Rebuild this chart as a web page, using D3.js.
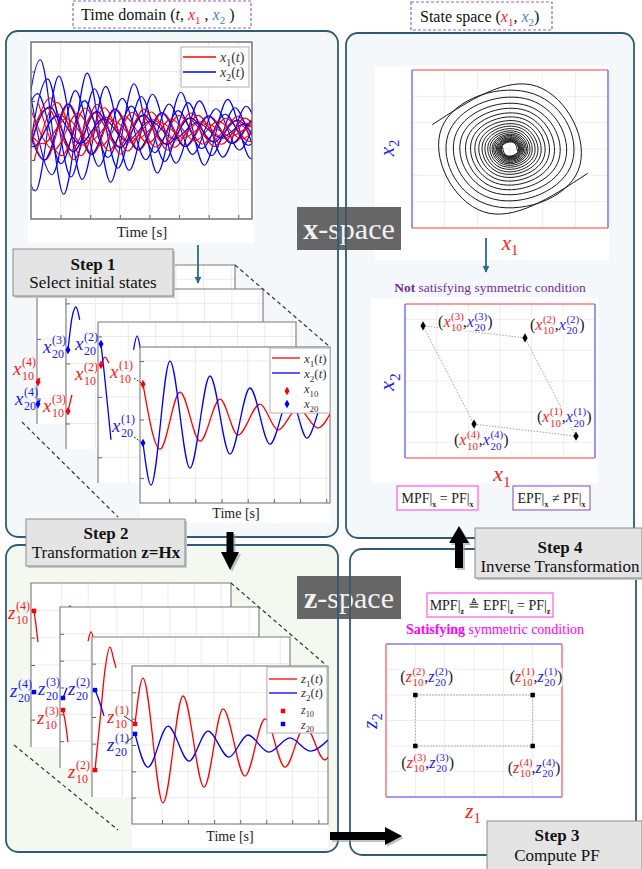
<!DOCTYPE html>
<html>
<head>
<meta charset="utf-8">
<script src="https://cdn.jsdelivr.net/npm/d3@7"></script>
<style>
  body { margin: 0; background: #fff; }
  svg text { font-family: 'Liberation Serif', 'DejaVu Serif', serif; }
</style>
</head>
<body>
<svg id="chart" width="642" height="869"></svg>
<script>
// ---------- data ----------
// top time-domain plot (t in s, states in arbitrary units)
var topGridT = [1.34, 2.68, 4.02, 5.36, 6.7, 8.04, 9.38];
var topGridV = [-2, -1, 0, 1, 2];
var halfPeriod = 1.06;
var envelope = [1.08, 1, 0.9, 0.81, 0.73, 0.66, 0.6, 0.54, 0.49, 0.44, 0.4, 0.36, 0.33];
var blueAmp = [2.4, -2.05, 1.75, -1.5, 1.25, -1.0, 0.8, -0.55];
var redAmp = [1.1, -1.0, 0.95, -0.85, 0.75, -0.65, 0.55, -0.45];
var trajPhase = [0.42, 0.2, 0.75, 0.95, 0.3, 0.6, 0.85, 0.1];
var redLag = 0.45;

// step 1 front plot
var xGridT = [1.4, 2.8, 4.2, 5.6, 7.0, 8.4, 9.8];
var xGridV = [-2, 0, 2];
var x1FrontT = [0, 0.91, 1.98, 3.05, 4.12, 5.08, 6.26, 7.22, 8.29, 9.36, 10];
var x1FrontV = [1.21, -1.01, 0.94, -0.74, 0.70, -0.53, 0.53, -0.36, 0.39, -0.29, 0.19];
var x2FrontT = [0, 0.43, 1.44, 2.51, 3.58, 4.65, 5.72, 6.79, 7.86, 8.77, 9.73, 10];
var x2FrontV = [-0.80, -2.24, 2.0, -1.66, 1.49, -1.18, 1.08, -0.84, 0.80, -0.63, 0.68, 0.5];
// step 1 back plots (visible pieces only)
var xBack1Red = [[0, -1.44], [0.1, -1.31]];
var xBack1Blue = [[0, -2.18], [0.1, -2.05]];
var xBack2Red = [[0, -1.59], [0.2, -1.05]];
var xBack2Blue = [[0, 0.45], [0.2, 1.5], [0.41, 1.88], [0.6, 1.45]];
var xBack3Red = [[0, 1.06], [0.2, 1.32], [0.4, 1.12]];
var xBack3Blue = [[0, 1.75], [0.15, 0.89], [0.36, -0.43], [0.51, -1.42]];
var xBack3BlueBump = [[1.67, 1.56], [1.85, 2.02], [2.03, 1.56]];

// step 2 front plot
var zGridT = [1.4, 2.75, 4.1, 5.45, 6.8, 8.15, 9.5];
var zGridV = [-2, -1, 0, 1, 2];
var z1FrontT = [0, 0.41, 1.45, 2.49, 3.58, 4.56, 5.7, 6.74, 7.77, 8.81, 9.84, 10];
var z1FrontV = [0.8, 2.54, -2.2, 1.86, -1.6, 1.37, -1.18, 0.99, -0.84, 0.72, -0.57, -0.46];
var z2FrontT = [0, 0.67, 1.71, 2.8, 3.78, 4.87, 5.85, 6.94, 8.03, 9.07, 10];
var z2FrontV = [0.42, -0.84, 0.72, -0.61, 0.53, -0.46, 0.38, -0.27, 0.27, -0.23, 0.19];
// step 2 back plots
var zBack1Red = [[0, 1.98], [0.1, 1.46], [0.2, 0.84]];
var zBack1RedBump = [[1.68, 1.87], [1.83, 2.16], [1.98, 1.87]];
var zBack1Blue = [[0, -0.99]];
var zBack2Red = [[0, -0.84], [0.15, -1.44], [0.25, -2.03]];
var zBack2RedBump = [[1.28, 1.73], [1.43, 2.07], [1.58, 1.73]];
var zBack2Blue = [[0, -0.39], [0.2, -0.02]];
var zBack3Red = [[0, -1.99], [0.26, -0.11], [0.51, 1.76], [0.77, 2.62], [0.97, 2.13], [1.08, 1.84]];
var zBack3Blue = [[0, 1.01], [0.2, 0.64], [0.46, 0.04]];

// state space spiral: radius per quarter turn (relative)
var spiralR = [1.15, 1.08, 1.01, 0.95, 0.89, 0.84, 0.79, 0.74, 0.70, 0.66, 0.62, 0.585,
  0.55, 0.52, 0.49, 0.46, 0.435, 0.41, 0.39, 0.37, 0.35, 0.33, 0.31, 0.295, 0.28, 0.265,
  0.25, 0.24, 0.23, 0.22, 0.21, 0.20, 0.19, 0.182, 0.175, 0.168, 0.161, 0.155, 0.149,
  0.143, 0.138, 0.133, 0.128, 0.124, 0.12, 0.116, 0.112];
var spiralArmStart = [160, -20];
var spiralAxis = [2.2, 2.35];
var stateGrid = [-2, -1, 0, 1, 2];

// initial states
var ptIndex = ["(1)", "(2)", "(3)", "(4)"];
var xInitX1 = [2.4, 0.79, -2.43, -0.82];
var xInitX2 = [-1.79, 1.40, 1.79, -1.40];
var zInitZ1 = [2, -2, -2, 2];
var zInitZ2 = [1, 1, -1, -1];

// ---------- drawing ----------
var svg = d3.select("#chart");
var RED = "#ff1a1a", BLUE = "#1a1aff", TEAL = "#3b8ba6", PANEL = "#2f5c74";
var LRED = "#ff7b7b", LBLUE = "#7b7bff";

// panels
var panels = [
  [6, 31, 332, 506, "#f4f8fb"],
  [346, 33, 288, 505, "#f4f8fb"],
  [6, 545, 332, 307, "#f3f8f0"],
  [350, 549, 286, 306, "#ffffff"]
];
svg.selectAll(".pfill").data(panels).enter().append("rect")
  .attr("x", d => d[0]).attr("y", d => d[1]).attr("width", d => d[2]).attr("height", d => d[3])
  .attr("rx", 12).attr("fill", d => d[4]);

var lineT = d3.line().curve(d3.curveMonotoneX);

// titles
function titleBox(x, y, w, h) {
  svg.append("rect").attr("x", x).attr("y", y).attr("width", w).attr("height", h)
    .attr("fill", "#fff").attr("stroke", "#9a62c8").attr("stroke-width", 1.2).attr("stroke-dasharray", "3,2");
}
titleBox(73, 1, 178, 27);
var t1 = svg.append("text").attr("x", 81).attr("y", 20).attr("font-size", 16).attr("fill", "#111");
t1.append("tspan").text("Time domain (");
t1.append("tspan").attr("font-style", "italic").text("t");
t1.append("tspan").text(", ");
t1.append("tspan").attr("font-style", "italic").attr("fill", RED).text("x");
t1.append("tspan").attr("font-size", 11).attr("dy", 4).attr("fill", RED).text("1");
t1.append("tspan").attr("dy", -4).text(" , ");
t1.append("tspan").attr("font-style", "italic").attr("fill", TEAL).text("x");
t1.append("tspan").attr("font-size", 11).attr("dy", 4).attr("fill", TEAL).text("2");
t1.append("tspan").attr("dy", -4).text(" )");

titleBox(411, 2, 141, 28);
var t2 = svg.append("text").attr("x", 420).attr("y", 22).attr("font-size", 16).attr("fill", "#111");
t2.append("tspan").text("State space (");
t2.append("tspan").attr("font-style", "italic").attr("fill", RED).text("x");
t2.append("tspan").attr("font-size", 11).attr("dy", 4).attr("fill", RED).text("1");
t2.append("tspan").attr("dy", -4).text(", ");
t2.append("tspan").attr("font-style", "italic").attr("fill", TEAL).text("x");
t2.append("tspan").attr("font-size", 11).attr("dy", 4).attr("fill", TEAL).text("2");
t2.append("tspan").attr("dy", -4).text(")");

// generic small plot
var clipId = 0;
function plot(box, xDom, yDom, pad, gridX, gridY, opts) {
  opts = opts || {};
  var g = svg.append("g");
  var x = d3.scaleLinear().domain(xDom).range([box[0] + pad, box[2]]);
  var y = d3.scaleLinear().domain(yDom).range([box[3], box[1]]);
  g.append("rect").attr("x", box[0]).attr("y", box[1])
    .attr("width", box[2] - box[0]).attr("height", (opts.bgBottom || box[3]) - box[1]).attr("fill", "#fff");
  g.selectAll(".gx").data(gridX).enter().append("line")
    .attr("x1", d => x(d)).attr("x2", d => x(d)).attr("y1", box[1]).attr("y2", box[3])
    .attr("stroke", "#e6e6e6").attr("stroke-width", 0.8);
  g.selectAll(".gy").data(gridY).enter().append("line")
    .attr("y1", d => y(d)).attr("y2", d => y(d)).attr("x1", box[0]).attr("x2", box[2])
    .attr("stroke", "#e6e6e6").attr("stroke-width", 0.8);
  var ay = g.append("g").attr("transform", "translate(" + box[0] + ",0)")
    .call(d3.axisLeft(y).tickValues(gridY).tickSizeInner(-4).tickSizeOuter(0).tickFormat(""));
  ay.select(".domain").remove();
  ay.selectAll("line").attr("stroke", "#666");
  if (opts.bottomAxis) {
    var ax = g.append("g").attr("transform", "translate(0," + box[3] + ")")
      .call(d3.axisBottom(x).tickValues(gridX).tickSizeInner(-4).tickSizeOuter(0).tickFormat(""));
    ax.select(".domain").remove();
    ax.selectAll("line").attr("stroke", "#666");
  }
  if (opts.back) {
    g.append("path").attr("d", "M" + box[0] + "," + box[3] + "V" + box[1] + "H" + box[2] + "V" + box[3])
      .attr("fill", "none").attr("stroke", "#7a7a7a").attr("stroke-width", 1.1);
  } else {
    g.append("rect").attr("x", box[0]).attr("y", box[1]).attr("width", box[2] - box[0]).attr("height", box[3] - box[1])
      .attr("fill", "none").attr("stroke", "#7a7a7a").attr("stroke-width", 1.1);
  }
  clipId++;
  g.append("clipPath").attr("id", "c" + clipId).append("rect")
    .attr("x", box[0]).attr("y", box[1] - 30).attr("width", box[2] - box[0]).attr("height", box[3] - box[1] + 30);
  var inner = g.append("g").attr("clip-path", "url(#c" + clipId + ")");
  return { g: g, inner: inner, x: x, y: y };
}

function curve(p, pts, color, w) {
  p.inner.append("path")
    .attr("d", lineT(pts.map(d => [p.x(d[0]), p.y(d[1])])))
    .attr("fill", "none").attr("stroke", color).attr("stroke-width", w || 1.3);
}
function marker(g, x, y, color, type, size) {
  g.append("path").attr("transform", "translate(" + x + "," + y + ")")
    .attr("d", d3.symbol().type(type).size(size || 22)()).attr("fill", color);
}

// ---- top time-domain plot ----
svg.append("rect").attr("x", 28).attr("y", 40).attr("width", 226).attr("height", 203).attr("fill", "#fff");
var topPlot = plot([31, 42, 252, 219], [0, 10], [-3, 3], 0, topGridT, topGridV, { bottomAxis: true });
var topClip = topPlot.g.append("clipPath").attr("id", "topclip");
topClip.append("rect").attr("x", 31).attr("y", 42).attr("width", 221).attr("height", 177);
topPlot.inner.attr("clip-path", "url(#topclip)");
blueAmp.forEach(function (a, j) {
  var ptsB = envelope.map((e, k) => [trajPhase[j] + (k - 1) * halfPeriod, a * e * (k % 2 === 0 ? -1 : 1)]);
  var ptsR = envelope.map((e, k) => [trajPhase[j] + redLag + (k - 1) * halfPeriod, redAmp[j] * e * (k % 2 === 0 ? -1 : 1)]);
  curve(topPlot, ptsB, "#0000ff", 1.1);
  curve(topPlot, ptsR, "#ff0000", 1.1);
});
topPlot.g.append("rect").attr("x", 31).attr("y", 42).attr("width", 221).attr("height", 177)
  .attr("fill", "none").attr("stroke", "#7a7a7a").attr("stroke-width", 1.1);
svg.append("rect").attr("x", 181).attr("y", 47).attr("width", 68).attr("height", 40)
  .attr("fill", "#fff").attr("stroke", "#b0b0b0");
function fnLabel(x, y, letter, s, arg, fs) {
  var t = svg.append("text").attr("x", x).attr("y", y).attr("font-size", fs).attr("fill", "#333");
  t.append("tspan").attr("font-style", "italic").text(letter);
  t.append("tspan").attr("font-size", fs * 0.7).attr("dy", fs * 0.28).text(s);
  if (arg) {
    t.append("tspan").attr("dy", -fs * 0.28).text("(");
    t.append("tspan").attr("font-style", "italic").text("t");
    t.append("tspan").text(")");
  }
}
svg.append("line").attr("x1", 183).attr("x2", 216).attr("y1", 57).attr("y2", 57).attr("stroke", "#ff0000").attr("stroke-width", 1.3);
svg.append("line").attr("x1", 183).attr("x2", 216).attr("y1", 72).attr("y2", 72).attr("stroke", "#0000ff").attr("stroke-width", 1.3);
fnLabel(220, 62, "x", "1", true, 14);
fnLabel(220, 77, "x", "2", true, 14);
svg.append("text").attr("x", 142).attr("y", 237).attr("text-anchor", "middle").attr("font-size", 15).attr("fill", "#222").text("Time [s]");

// thin teal arrows
svg.append("defs").append("marker").attr("id", "tealHead").attr("viewBox", "0 0 10 10")
  .attr("refX", 9).attr("refY", 5).attr("markerWidth", 4).attr("markerHeight", 4).attr("orient", "auto")
  .append("path").attr("d", "M0,0L10,5L0,10z").attr("fill", "#2b6a88");
function tealArrow(x, y1, y2) {
  svg.append("line").attr("x1", x).attr("x2", x).attr("y1", y1).attr("y2", y2)
    .attr("stroke", "#2b6a88").attr("stroke-width", 1.8).attr("marker-end", "url(#tealHead)");
}

// ---- step 1 stack ----
var xyDom = [-2.85, 2.48];
var xb1 = plot([37, 265, 235, 424], [0, 10], xyDom, 1, xGridT, xGridV, { back: true });
curve(xb1, xBack1Red, "#ff0000"); curve(xb1, xBack1Blue, "#0000ff");
var xb2 = plot([66, 289, 263, 449], [0, 10], xyDom, 2, xGridT, xGridV, { back: true });
curve(xb2, xBack2Red, "#ff0000"); curve(xb2, xBack2Blue, "#0000ff");
var xb3 = plot([98, 322, 296, 483], [0, 10], xyDom, 3, xGridT, xGridV, { back: true });
curve(xb3, xBack3Red, "#ff0000"); curve(xb3, xBack3Blue, "#0000ff"); curve(xb3, xBack3BlueBump, "#0000ff");
var xf = plot([140, 347, 330, 503], [0, 10], xyDom, 3, xGridT, xGridV, { bottomAxis: true, bgBottom: 523 });
curve(xf, x1FrontT.map((t, i) => [t, x1FrontV[i]]), "#ff0000");
curve(xf, x2FrontT.map((t, i) => [t, x2FrontV[i]]), "#0000ff");
[[xb1, xBack1Red, xBack1Blue], [xb2, xBack2Red, xBack2Blue], [xb3, xBack3Red, xBack3Blue]].forEach(function (b) {
  marker(svg, b[0].x(b[1][0][0]), b[0].y(b[1][0][1]), "#ff0000", d3.symbolDiamond);
  marker(svg, b[0].x(b[2][0][0]), b[0].y(b[2][0][1]), "#0000ff", d3.symbolDiamond);
});
marker(svg, xf.x(0), xf.y(x1FrontV[0]), "#ff0000", d3.symbolDiamond);
marker(svg, xf.x(0), xf.y(x2FrontV[0]), "#0000ff", d3.symbolDiamond);
svg.append("text").attr("x", 236).attr("y", 518).attr("text-anchor", "middle").attr("font-size", 14).attr("fill", "#222").text("Time [s]");
tealArrow(198, 245, 283);
// legend
svg.append("rect").attr("x", 270).attr("y", 348).attr("width", 60).attr("height", 65).attr("fill", "#fff").attr("stroke", "#b0b0b0");
svg.append("line").attr("x1", 272).attr("x2", 300).attr("y1", 358).attr("y2", 358).attr("stroke", "#ff0000").attr("stroke-width", 1.3);
svg.append("line").attr("x1", 272).attr("x2", 300).attr("y1", 373).attr("y2", 373).attr("stroke", "#0000ff").attr("stroke-width", 1.3);
fnLabel(304, 363, "x", "1", true, 13);
fnLabel(304, 378, "x", "2", true, 13);
marker(svg, 287, 391, "#ff0000", d3.symbolDiamond);
marker(svg, 287, 404, "#0000ff", d3.symbolDiamond);
fnLabel(304, 393, "x", "10", false, 12.5);
fnLabel(304, 408, "x", "20", false, 12.5);

// dashed perspective lines
function dashed(x1, y1, x2, y2) {
  svg.append("line").attr("x1", x1).attr("y1", y1).attr("x2", x2).attr("y2", y2)
    .attr("stroke", "#333").attr("stroke-width", 1.2).attr("stroke-dasharray", "4,3");
}
dashed(235, 265, 330, 347);
dashed(22, 422, 118, 517);

// indexed symbols like x_10^(1)
function indexed(g, x, y, letter, s, sup, color, fs, ss) {
  var t = g.append("text").attr("x", x).attr("y", y).attr("fill", color)
    .attr("font-size", fs).attr("font-style", "italic").text(letter);
  var w = t.node().getComputedTextLength();
  var a = g.append("text").attr("x", x + w + 0.5).attr("y", y + fs * 0.28).attr("fill", color).attr("font-size", ss).text(s);
  var w2 = a.node().getComputedTextLength();
  var b = g.append("text").attr("x", x + w + 0.5).attr("y", y - fs * 0.45).attr("fill", color).attr("font-size", ss).text(sup);
  w2 = Math.max(w2, b.node().getComputedTextLength());
  return w + 0.5 + w2;
}
var labX = svg.append("g");
var stepOneLabels = [
  [13, 375, "10", "(4)", RED], [15, 405, "20", "(4)", BLUE],
  [43, 353, "20", "(3)", BLUE], [43, 412, "10", "(3)", RED],
  [75, 350, "20", "(2)", BLUE], [75, 380, "10", "(2)", RED],
  [110, 378, "10", "(1)", RED], [112, 432, "20", "(1)", BLUE]
];
stepOneLabels.forEach(d => indexed(labX, d[0], d[1], "x", d[2], d[3], d[4], 19, 12));
function leader(x1, y1, x2, y2, dash) {
  svg.append("line").attr("x1", x1).attr("y1", y1).attr("x2", x2).attr("y2", y2)
    .attr("stroke", "#333").attr("stroke-width", 1).attr("stroke-dasharray", dash ? "2,1.5" : null);
}
leader(134, 378, 141, 383, true);
leader(134, 437, 141, 442, true);

// ---- state space spiral ----
svg.append("rect").attr("x", 375).attr("y", 66).attr("width", 234).attr("height", 194).attr("fill", "#fff");
function statePlot(box, xDom, yDom, grid, hColor, vColor) {
  var x = d3.scaleLinear().domain(xDom).range([box[0], box[2]]);
  var y = d3.scaleLinear().domain(yDom).range([box[3], box[1]]);
  var g = svg.append("g");
  g.selectAll(".gx").data(grid).enter().append("line")
    .attr("x1", d => x(d)).attr("x2", d => x(d)).attr("y1", box[1]).attr("y2", box[3])
    .attr("stroke", "#e8e8e8").attr("stroke-width", 0.8);
  g.selectAll(".gy").data(grid).enter().append("line")
    .attr("y1", d => y(d)).attr("y2", d => y(d)).attr("x1", box[0]).attr("x2", box[2])
    .attr("stroke", "#e8e8e8").attr("stroke-width", 0.8);
  g.append("line").attr("x1", box[0]).attr("x2", box[2]).attr("y1", box[1]).attr("y2", box[1]).attr("stroke", hColor).attr("stroke-width", 1.6);
  g.append("line").attr("x1", box[0]).attr("x2", box[2]).attr("y1", box[3]).attr("y2", box[3]).attr("stroke", hColor).attr("stroke-width", 1.6);
  g.append("line").attr("x1", box[0]).attr("x2", box[0]).attr("y1", box[1]).attr("y2", box[3]).attr("stroke", vColor).attr("stroke-width", 1.6);
  g.append("line").attr("x1", box[2]).attr("x2", box[2]).attr("y1", box[1]).attr("y2", box[3]).attr("stroke", vColor).attr("stroke-width", 1.6);
  return { g: g, x: x, y: y };
}
var sp = statePlot([412, 70, 608, 228], [-3, 3], [-3, 3], stateGrid, LRED, LBLUE);
spiralArmStart.forEach(function (a0) {
  var pts = spiralR.map(function (r, i) {
    var th = (a0 - 90 * i) * Math.PI / 180;
    return [sp.x(r * spiralAxis[0] * Math.cos(th)), sp.y(r * spiralAxis[1] * Math.sin(th))];
  });
  sp.g.append("path").attr("d", d3.line().curve(d3.curveNatural)(pts))
    .attr("fill", "none").attr("stroke", "#1a1a1a").attr("stroke-width", 1);
});
function axisName(x, y, letter, s, color, fs, rot) {
  var t = svg.append("text").attr("transform", "translate(" + x + "," + y + ")" + (rot ? " rotate(-90)" : ""))
    .attr("text-anchor", "middle").attr("font-size", fs).attr("fill", color);
  t.append("tspan").attr("font-style", "italic").text(letter);
  t.append("tspan").attr("font-size", fs * 0.7).attr("dy", fs * 0.25).text(s);
}
axisName(394, 148, "x", "2", BLUE, 21, true);
axisName(510, 250, "x", "1", RED, 21, false);
tealArrow(486, 238, 272);

var nt = svg.append("text").attr("x", 490).attr("y", 292).attr("text-anchor", "middle").attr("font-size", 13.5).attr("fill", "#7030a0");
nt.append("tspan").attr("font-weight", "bold").text("Not");
nt.append("tspan").text(" satisfying symmetric condition");

// ---- x-space scatter ----
svg.append("rect").attr("x", 371).attr("y", 298).attr("width", 227).attr("height", 185).attr("fill", "#fff");
var xs = statePlot([405, 304, 595, 458], [-3, 3], [-2.5, 2.5], stateGrid, LRED, LBLUE);
var xPoly = xInitX1.map((v, i) => [xs.x(v), xs.y(xInitX2[i])]);
xs.g.append("path").attr("d", d3.line()(xPoly.concat([xPoly[0]])))
  .attr("fill", "none").attr("stroke", "#999").attr("stroke-width", 0.9).attr("stroke-dasharray", "1.5,1.5");
function pairLabel(x, y, letter, k, fs, ss) {
  var g = svg.append("g");
  var cx = x;
  var p = g.append("text").attr("x", cx).attr("y", y).attr("font-size", fs).attr("fill", "#222").text("(");
  cx += p.node().getComputedTextLength();
  cx += indexed(g, cx, y, letter, "10", k, RED, fs, ss);
  var c = g.append("text").attr("x", cx - 1).attr("y", y).attr("font-size", fs).attr("fill", "#222").text(",");
  cx += c.node().getComputedTextLength() - 1;
  cx += indexed(g, cx, y, letter, "20", k, BLUE, fs, ss);
  g.append("text").attr("x", cx).attr("y", y).attr("font-size", fs).attr("fill", "#222").text(")");
  var bb = g.node().getBBox();
  g.insert("rect", ":first-child").attr("x", bb.x).attr("y", bb.y + 3).attr("width", bb.width).attr("height", bb.height - 5).attr("fill", "#fff");
}
var xLabelOffset = [[-39, -14], [5, -8], [15, 1], [-20, 21]];
xPoly.forEach(function (p, i) {
  pairLabel(p[0] + xLabelOffset[i][0], p[1] + xLabelOffset[i][1], "x", ptIndex[i], 16, 11);
});
xPoly.forEach(p => marker(svg, p[0], p[1], "#000", d3.symbolDiamond, 24));
axisName(394, 382, "x", "2", BLUE, 22, true);
axisName(502, 481, "x", "1", RED, 22, false);

function formulaBox(x, y, w, color, parts) {
  svg.append("rect").attr("x", x).attr("y", y).attr("width", w).attr("height", 24)
    .attr("fill", "#fff").attr("stroke", color).attr("stroke-width", 1.3);
  var t = svg.append("text").attr("x", x + w / 2).attr("y", y + 17).attr("text-anchor", "middle")
    .attr("font-size", 14).attr("fill", "#222");
  parts.forEach(function (p) {
    if (p[1] === "s") {
      t.append("tspan").attr("font-size", 8).attr("font-weight", "bold").attr("dy", 4).text(p[0]);
      t.append("tspan").attr("dy", -4).text(" ");
    } else {
      t.append("tspan").text(p[0]);
    }
  });
}
formulaBox(397, 486, 81, "#ff66ee", [["MPF|", "n"], ["x", "s"], ["= PF|", "n"], ["x", "s"]]);
formulaBox(513, 486, 77, "#a070d0", [["EPF|", "n"], ["x", "s"], ["\u2260 PF|", "n"], ["x", "s"]]);

// ---- step 2 stack ----
var zyDom = [-3, 3];
var zb1 = plot([31, 583, 231, 747], [0, 10], zyDom, 3, zGridT, zGridV, { back: true });
curve(zb1, zBack1Red, "#ff0000"); curve(zb1, zBack1RedBump, "#ff0000");
var zb2 = plot([60, 607, 259, 768], [0, 10], zyDom, 3, zGridT, zGridV, { back: true });
curve(zb2, zBack2Red, "#ff0000"); curve(zb2, zBack2RedBump, "#ff0000"); curve(zb2, zBack2Blue, "#0000ff");
var zb3 = plot([92, 637, 290, 797], [0, 10], zyDom, 3, zGridT, zGridV, { back: true });
curve(zb3, zBack3Red, "#ff0000"); curve(zb3, zBack3Blue, "#0000ff");
var zf = plot([132, 666, 328, 824], [0, 10], zyDom, 3, zGridT, zGridV, { bottomAxis: true, bgBottom: 848 });
curve(zf, z1FrontT.map((t, i) => [t, z1FrontV[i]]), "#ff0000");
curve(zf, z2FrontT.map((t, i) => [t, z2FrontV[i]]), "#0000ff");
[[zb1, zBack1Red, zBack1Blue], [zb2, zBack2Red, zBack2Blue], [zb3, zBack3Red, zBack3Blue]].forEach(function (b) {
  marker(svg, b[0].x(b[1][0][0]), b[0].y(b[1][0][1]), "#ff0000", d3.symbolSquare, 20);
  marker(svg, b[0].x(b[2][0][0]), b[0].y(b[2][0][1]), "#0000ff", d3.symbolSquare, 20);
});
marker(svg, zf.x(0), zf.y(z1FrontV[0]), "#ff0000", d3.symbolSquare, 20);
marker(svg, zf.x(0), zf.y(z2FrontV[0]), "#0000ff", d3.symbolSquare, 20);
svg.append("text").attr("x", 230).attr("y", 841).attr("text-anchor", "middle").attr("font-size", 14).attr("fill", "#222").text("Time [s]");
svg.append("rect").attr("x", 267).attr("y", 667).attr("width", 60).attr("height", 66).attr("fill", "#fff").attr("stroke", "#b0b0b0");
svg.append("line").attr("x1", 269).attr("x2", 297).attr("y1", 679).attr("y2", 679).attr("stroke", "#ff0000").attr("stroke-width", 1.3);
svg.append("line").attr("x1", 269).attr("x2", 297).attr("y1", 693).attr("y2", 693).attr("stroke", "#0000ff").attr("stroke-width", 1.3);
fnLabel(301, 683, "z", "1", true, 13);
fnLabel(301, 697, "z", "2", true, 13);
marker(svg, 283, 711, "#ff0000", d3.symbolSquare, 20);
marker(svg, 283, 724, "#0000ff", d3.symbolSquare, 20);
fnLabel(301, 714, "z", "10", false, 12);
fnLabel(301, 729, "z", "20", false, 12);
dashed(231, 583, 326, 665);
dashed(14, 745, 118, 830);
var labZ = svg.append("g");
var stepTwoLabels = [
  [8, 619, "10", "(4)", RED], [10, 697, "20", "(4)", BLUE],
  [38, 695, "20", "(3)", BLUE], [37, 724, "10", "(3)", RED],
  [68, 695, "20", "(2)", BLUE], [68, 778, "10", "(2)", RED],
  [107, 723, "10", "(1)", RED], [107, 751, "20", "(1)", BLUE]
];
stepTwoLabels.forEach(d => indexed(labZ, d[0], d[1], "z", d[2], d[3], d[4], 19, 12));
leader(124, 716, 133, 722, false);
leader(125, 743, 133, 737, false);

// ---- z-space scatter ----
formulaBox(427, 593, 126, "#ff66ee", [["MPF|", "n"], ["z", "s"], ["\u225c EPF|", "n"], ["z", "s"], ["= PF|", "n"], ["z", "s"]]);
var st = svg.append("text").attr("x", 495).attr("y", 634).attr("text-anchor", "middle").attr("font-size", 14).attr("fill", "#ff00ff");
st.append("tspan").attr("font-weight", "bold").text("Satisfying");
st.append("tspan").text(" symmetric condition");
var zs = statePlot([386, 644, 562, 797], [-3, 3], [-3, 3], stateGrid, LBLUE, LRED);
var zPoly = zInitZ1.map((v, i) => [zs.x(v), zs.y(zInitZ2[i])]);
zs.g.append("path").attr("d", d3.line()(zPoly.concat([zPoly[0]])))
  .attr("fill", "none").attr("stroke", "#999").attr("stroke-width", 0.9).attr("stroke-dasharray", "1.5,1.5");
var zLabelOffset = [[-23, -13], [-15, -13], [-14, 22], [-25, 27]];
zPoly.forEach(function (p, i) {
  pairLabel(p[0] + zLabelOffset[i][0], p[1] + zLabelOffset[i][1], "z", ptIndex[i], 16, 11);
});
zPoly.forEach(p => marker(svg, p[0], p[1], "#000", d3.symbolSquare, 20));
axisName(377, 721, "z", "2", BLUE, 21, true);
axisName(473, 818, "z", "1", RED, 21, false);

// ---- x-space / z-space boxes (under the panel strokes) ----
function spaceBox(y, letter) {
  svg.append("rect").attr("x", 297).attr("y", y).attr("width", 104).attr("height", 43).attr("fill", "#666");
  var t = svg.append("text").attr("x", 349).attr("y", y + 32).attr("text-anchor", "middle")
    .attr("font-size", 30).attr("fill", "#f2f2f2");
  t.append("tspan").attr("font-weight", "bold").text(letter);
  t.append("tspan").text("-space");
}
spaceBox(207, "x");
spaceBox(576, "z");

// ---- panel strokes ----
svg.selectAll(".pstroke").data(panels).enter().append("rect")
  .attr("x", d => d[0]).attr("y", d => d[1]).attr("width", d => d[2]).attr("height", d => d[3])
  .attr("rx", 12).attr("fill", "none").attr("stroke", PANEL).attr("stroke-width", 1.8);

// ---- step boxes ----
function stepBox(x, y, w, h, title, cx, y1, y2, line2) {
  svg.append("rect").attr("x", x + 2).attr("y", y + 2).attr("width", w).attr("height", h).attr("fill", "#c8c8c8");
  svg.append("rect").attr("x", x).attr("y", y).attr("width", w).attr("height", h)
    .attr("fill", "#e4e4e4").attr("stroke", "#8a8a8a").attr("stroke-width", 1);
  svg.append("text").attr("x", cx).attr("y", y1).attr("text-anchor", "middle").attr("font-size", 17)
    .attr("font-weight", "bold").attr("fill", "#111").text(title);
  var t = svg.append("text").attr("x", cx).attr("y", y2).attr("text-anchor", "middle").attr("font-size", 17).attr("fill", "#111");
  line2.forEach(p => t.append("tspan").attr("font-weight", p[1] ? "bold" : null).text(p[0]));
}
stepBox(13, 249, 160, 47, "Step 1", 93, 270, 288, [["Select initial states", false]]);
stepBox(26, 519, 159, 47, "Step 2", 106, 539, 558, [["Transformation ", false], ["z=Hx", true]]);
stepBox(475, 528, 167, 50, "Step 4", 560, 553, 572, [["Inverse Transformation", false]]);
stepBox(487, 821, 155, 50, "Step 3", 557, 841, 861, [["Compute PF", false]]);

// ---- black block arrows ----
function blockArrow(pts) {
  svg.append("polygon").attr("points", pts.map(p => (p[0] + 2) + "," + (p[1] + 2)).join(" ")).attr("fill", "#9a9a9a").attr("opacity", 0.6);
  svg.append("polygon").attr("points", pts.map(p => p.join(",")).join(" ")).attr("fill", "#000");
}
blockArrow([[459, 526], [469, 543], [463, 543], [463, 568], [455, 568], [455, 543], [449, 543]]);
blockArrow([[230, 570], [239, 552], [233.5, 552], [233.5, 532], [226.5, 532], [226.5, 552], [221, 552]]);
blockArrow([[402, 836], [385, 845], [385, 840], [330, 840], [330, 832], [385, 832], [385, 827]]);
</script>
</body>
</html>
